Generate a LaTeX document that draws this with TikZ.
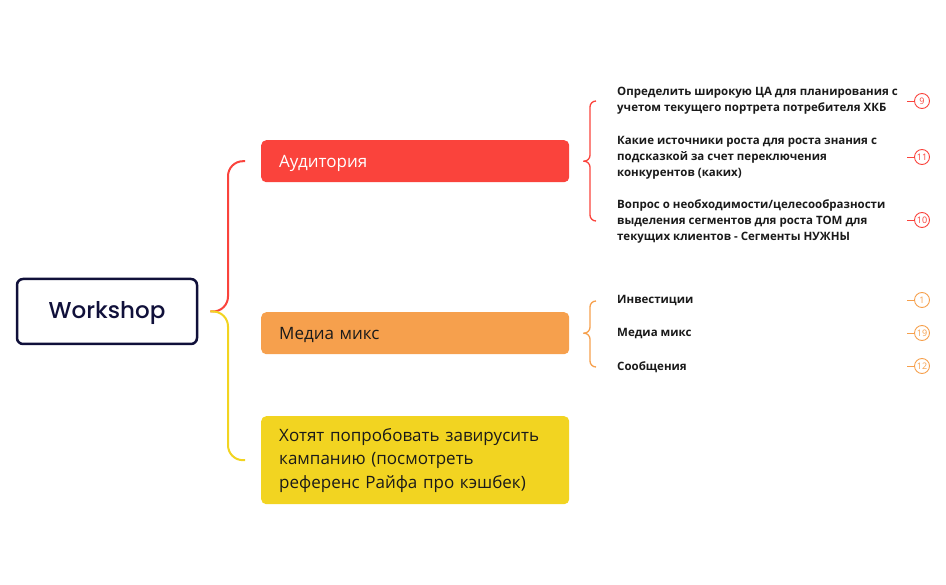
\documentclass[tikz,border=0pt]{standalone}
\usepackage{fontspec}
\setmainfont{Open Sans}
\newfontfamily\wsfont[UprightFont={* Medium}]{Poppins}

\definecolor{wsnavy}{HTML}{10103A}
\definecolor{audred}{HTML}{FA433C}
\definecolor{mixorange}{HTML}{F6A04D}
\definecolor{viryellow}{HTML}{F2D421}
\definecolor{inktext}{HTML}{1A1A1A}

\tikzset{
	topic/.style={rounded corners=5pt,minimum height=42pt,text width=272pt,inner xsep=18pt,inner ysep=0pt,align=left,anchor=north west,font=\fontsize{17}{23.5}\selectfont},
	item/.style={anchor=west,inner sep=0pt,align=left,text=inktext,font=\bfseries\fontsize{11.5}{16}\selectfont},
	count/.style={circle,draw,fill=white,line width=.9pt,minimum size=15pt,inner sep=0pt,font=\fontsize{9}{9}\selectfont},
	branch/.style={line width=2pt,rounded corners=15pt},
	curly/.style={line width=1.3pt,rounded corners=6pt}
}

\begin{document}
\begin{tikzpicture}[x=1pt,y=-1pt]
	\useasboundingbox (0,0) rectangle (946,585);

	% root and main topics
	\node[draw=wsnavy,line width=2.5pt,rounded corners=6pt,minimum width=180pt,minimum height=65pt,text height=18pt,text depth=4pt,text=wsnavy,font=\wsfont\fontsize{23}{26}\selectfont] (ws) at (107,311.5) {Workshop};

	\node[topic,fill=audred,text=white,text height=14pt,text depth=2pt] (aud) at (261,140) {Аудитория};
	\node[topic,fill=mixorange,text=inktext,text height=14pt,text depth=2pt] (mix) at (261,312) {Медиа микс};
	\node[topic,fill=viryellow,text=inktext,minimum height=88pt] (vir) at (261,416) {Хотят попробовать завирусить\\кампанию (посмотреть\\референс Райфа про кэшбек)};

	\draw[branch,audred] ([xshift=12pt]ws.east) -| ([xshift=-33pt]aud.west) -- ([xshift=-16pt]aud.west);
	\draw[branch,viryellow] ([xshift=12pt]ws.east) -| ([xshift=-33pt]vir.west) -- ([xshift=-16pt]vir.west);

	% subtopics
	\node[item] (a1) at (617,101) {Определить широкую ЦА для планирования с\\учетом текущего портрета потребителя ХКБ};
	\node[item] (a2) at (617,158) {Какие источники роста для роста знания с\\подсказкой за счет переключения\\конкурентов (каких)};
	\node[item] (a3) at (617,221) {Вопрос о необходимости/целесообразности\\выделения сегментов для роста ТОМ для\\текущих клиентов - Сегменты НУЖНЫ};

	\node[item] (m1) at (617,301) {Инвестиции};
	\node[item] (m2) at (617,334) {Медиа микс};
	\node[item] (m3) at (617,367) {Сообщения};

	\draw[curly,audred] ([xshift=14pt]aud.east) -| ([xshift=-27pt]a1.west) -- ([xshift=-21pt]a1.west);
	\draw[curly,audred] ([xshift=14pt]aud.east) -| ([xshift=-27pt]a3.west) -- ([xshift=-21pt]a3.west);
	\draw[curly,mixorange] ([xshift=14pt]mix.east) -| ([xshift=-27pt]m1.west) -- ([xshift=-21pt]m1.west);
	\draw[curly,mixorange] ([xshift=14pt]mix.east) -| ([xshift=-27pt]m3.west) -- ([xshift=-21pt]m3.west);

	% counters
	\begin{scope}[every node/.style={count,draw=audred,text=audred}]
		\node (ca1) at (922,101) {9};
		\node (ca2) at (922,157) {11};
		\node (ca3) at (922,220) {10};
	\end{scope}
	\begin{scope}[every node/.style={count,draw=mixorange,text=mixorange}]
		\node (cm1) at (922,300) {1};
		\node (cm2) at (922,333) {19};
		\node (cm3) at (922,366) {12};
	\end{scope}

	\foreach \c in {ca1,ca2,ca3} \draw[audred,line width=.9pt] (\c.west) -- ++(-7,0);
	\foreach \c in {cm1,cm2,cm3} \draw[mixorange,line width=.9pt] (\c.west) -- ++(-7,0);
\end{tikzpicture}
\end{document}
